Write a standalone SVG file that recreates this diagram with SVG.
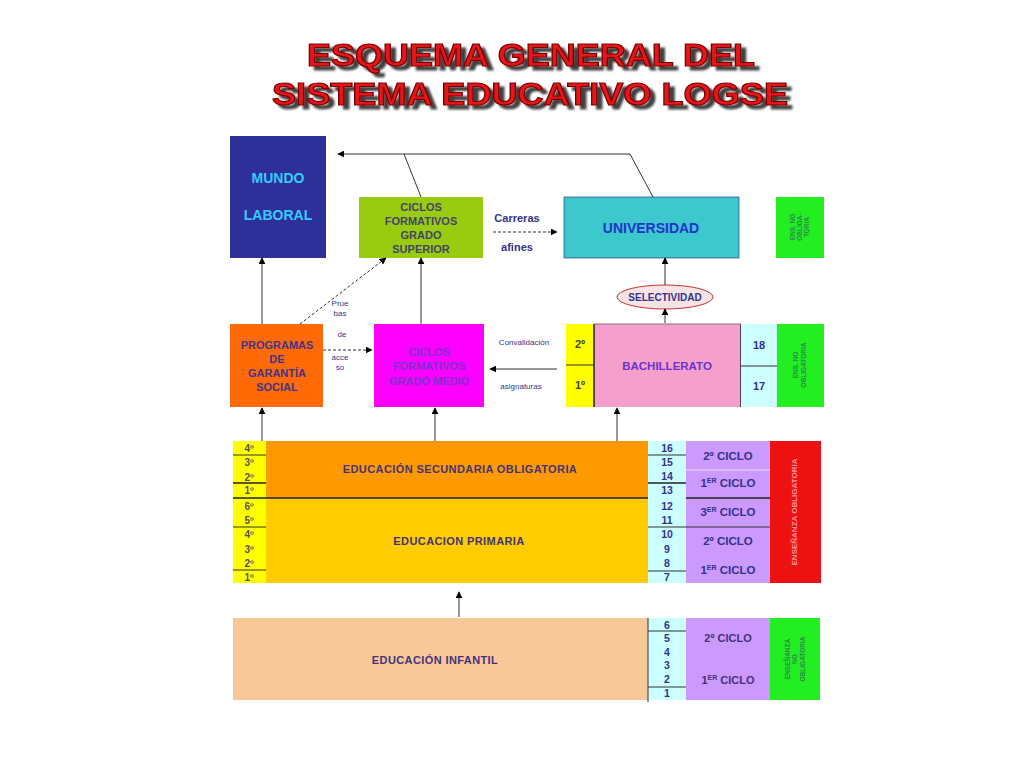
<svg xmlns="http://www.w3.org/2000/svg" width="1024" height="767" viewBox="0 0 1024 767">
<defs>
<marker id="ah" viewBox="0 0 10 10" refX="9" refY="5" markerWidth="7" markerHeight="7" orient="auto" markerUnits="userSpaceOnUse"><path d="M0,0 L10,5 L0,10 z" fill="#000"/></marker>
<filter id="sh" x="-5%" y="-30%" width="115%" height="170%">
<feGaussianBlur in="SourceAlpha" stdDeviation="1.3" result="b"/>
<feOffset in="b" dx="5" dy="4" result="o"/>
<feComponentTransfer in="o" result="o2"><feFuncA type="linear" slope="0.75"/></feComponentTransfer>
<feMerge><feMergeNode in="o2"/><feMergeNode in="SourceGraphic"/></feMerge>
</filter>
</defs>
<style>
.t{font-family:"Liberation Sans",Arial,sans-serif;font-weight:bold;text-anchor:middle}
.nv{fill:#33338a}
.sm{font-size:11px}
.xs{font-size:8px;font-weight:normal}
.ln{stroke:#333;stroke-width:1;fill:none}
.tk{stroke:#222;stroke-width:1.5}
.ttl{font-family:"Liberation Sans",Arial,sans-serif;font-weight:bold;font-size:32px;text-anchor:middle;fill:#e4141a;stroke:#7a0000;stroke-width:1.2}
</style>
<rect width="1024" height="767" fill="#fff"/>
<g id="title" filter="url(#sh)">
<text class="ttl" x="531" y="66" textLength="448" lengthAdjust="spacingAndGlyphs">ESQUEMA GENERAL DEL</text>
<text class="ttl" x="530" y="105" textLength="516" lengthAdjust="spacingAndGlyphs">SISTEMA EDUCATIVO LOGSE</text>
</g>

<g id="mundo-laboral">
<rect x="230" y="136" width="96" height="122" fill="#2f2f99"/>
<text class="t" x="278" y="183" font-size="14" fill="#33ccff">MUNDO</text>
<text class="t" x="278" y="220" font-size="14" fill="#33ccff">LABORAL</text>
</g>
<g id="cfgs">
<rect x="359" y="197" width="124" height="61" fill="#99cc11"/>
<text class="t" x="421" y="211" font-size="11" fill="#444466">CICLOS</text>
<text class="t" x="421" y="225" font-size="11" fill="#444466">FORMATIVOS</text>
<text class="t" x="421" y="239" font-size="11" fill="#444466">GRADO</text>
<text class="t" x="421" y="253" font-size="11" fill="#444466">SUPERIOR</text>
</g>
<g id="carreras">
<text class="t nv sm" x="517" y="222">Carreras</text>
<text class="t nv sm" x="517" y="251">afines</text>
</g>
<g id="universidad">
<rect x="564" y="197" width="175" height="61" fill="#3cc8cc" stroke="#226" stroke-width="0.6"/>
<text class="t" x="651" y="233" font-size="14" fill="#2233cc">UNIVERSIDAD</text>
</g>
<g id="ens-no-obl-1">
<rect x="776" y="197" width="48" height="61" fill="#22ee22"/>
<text class="t" font-size="6.5" fill="#2a8a4a" transform="translate(800,227) rotate(-90)"><tspan x="0" y="-5">ENS. NO</tspan><tspan x="0" y="2">OBLIGA-</tspan><tspan x="0" y="9">TORIA</tspan></text>
</g>

<g id="selectividad">
<ellipse cx="665" cy="297" rx="48" ry="12" fill="#f8e4e4" stroke="#cc3333" stroke-width="1"/>
<text class="t nv" x="665" y="301" font-size="10">SELECTIVIDAD</text>
</g>

<g id="pgs">
<rect x="230" y="324" width="93" height="83" fill="#ff6a06"/>
<text class="t sm" x="277" y="349" fill="#44338a">PROGRAMAS</text>
<text class="t sm" x="277" y="363" fill="#44338a">DE</text>
<text class="t sm" x="277" y="377" fill="#44338a">GARANTÍA</text>
<text class="t sm" x="277" y="391" fill="#44338a">SOCIAL</text>
</g>
<g id="pruebas">
<text class="t nv xs" x="340" y="306">Prue</text>
<text class="t nv xs" x="340" y="316">bas</text>
<text class="t nv xs" x="342" y="337">de</text>
<text class="t nv xs" x="340" y="360">acce</text>
<text class="t nv xs" x="340" y="370">so</text>
</g>
<g id="cfgm">
<rect x="374" y="324" width="110" height="83" fill="#ff00ff"/>
<text class="t sm" x="429" y="356" fill="#7a33cc">CICLOS</text>
<text class="t sm" x="429" y="370" fill="#7a33cc">FORMATIVOS</text>
<text class="t sm" x="429" y="385" fill="#7a33cc">GRADO  MEDIO</text>
</g>
<g id="convalidacion">
<text class="t nv xs" x="524" y="345">Convalidación</text>
<text class="t nv xs" x="521" y="389">asignaturas</text>
</g>
<g id="bach-cursos">
<rect x="566" y="324" width="28" height="83" fill="#ffff00"/>
<line x1="566" y1="365" x2="594" y2="365" class="ln"/>
<text class="t" x="580" y="348" font-size="11" fill="#444">2º</text>
<text class="t" x="580" y="389" font-size="11" fill="#444">1º</text>
</g>
<g id="bachillerato">
<rect x="594" y="324" width="147" height="83" fill="#f5a0cc"/>
<line x1="594" y1="324" x2="594" y2="407" class="tk"/>
<line x1="741" y1="324" x2="741" y2="407" class="tk"/>
<line x1="594" y1="324" x2="741" y2="324" stroke="#8a6a8a" stroke-width="1"/>
<text class="t" x="667" y="370" font-size="11.5" fill="#6a33cc">BACHILLERATO</text>
</g>
<g id="bach-edades">
<rect x="741" y="324" width="36" height="83" fill="#ccffff"/>
<line x1="741" y1="366" x2="777" y2="366" class="ln"/>
<text class="t nv sm" x="759" y="349">18</text>
<text class="t nv sm" x="759" y="390">17</text>
</g>
<g id="ens-no-obl-2">
<rect x="777" y="324" width="47" height="83" fill="#22ee22"/>
<text class="t" font-size="6.5" fill="#2a8a4a" transform="translate(800,365) rotate(-90)"><tspan x="0" y="-2">ENS. NO</tspan><tspan x="0" y="6">OBLIGATORIA</tspan></text>
</g>

<g id="eso-primaria-cursos">
<rect x="233" y="441" width="33" height="142" fill="#ffff00"/>
<line x1="233" y1="455" x2="266" y2="455" class="ln"/>
<line x1="233" y1="483" x2="266" y2="483" class="tk"/>
<line x1="233" y1="527" x2="266" y2="527" class="ln"/>
<line x1="233" y1="570" x2="266" y2="570" class="ln"/>
<g class="t" font-size="10" fill="#555" font-weight="normal">
<text x="249" y="452">4º</text><text x="249" y="466">3º</text><text x="249" y="481">2º</text><text x="249" y="494">1º</text>
<text x="249" y="510">6º</text><text x="249" y="524">5º</text><text x="249" y="538">4º</text><text x="249" y="553">3º</text><text x="249" y="567">2º</text><text x="249" y="581">1º</text>
</g>
</g>
<g id="eso">
<rect x="266" y="441" width="382" height="57" fill="#ff9900"/>
<text class="t" x="460" y="473" font-size="11" fill="#44337a" letter-spacing="0.4">EDUCACIÓN SECUNDARIA OBLIGATORIA</text>
</g>
<g id="primaria">
<rect x="266" y="498" width="382" height="85" fill="#ffcc00"/>
<text class="t" x="459" y="545" font-size="11" fill="#44337a" letter-spacing="0.4">EDUCACION PRIMARIA</text>
</g>
<line x1="233" y1="498" x2="686" y2="498" class="tk"/>
<g id="edades-obl">
<rect x="648" y="441" width="38" height="142" fill="#ccffff"/>
<line x1="648" y1="455" x2="686" y2="455" class="ln"/>
<line x1="648" y1="483" x2="686" y2="483" class="tk"/>
<line x1="648" y1="527" x2="686" y2="527" class="ln"/>
<line x1="648" y1="571" x2="686" y2="571" class="ln"/>
<g class="t nv" font-size="10.5">
<text x="667" y="452">16</text><text x="667" y="466">15</text><text x="667" y="480">14</text><text x="667" y="494">13</text>
<text x="667" y="510">12</text><text x="667" y="524">11</text><text x="667" y="538">10</text><text x="667" y="553">9</text><text x="667" y="567">8</text><text x="667" y="581">7</text>
</g>
</g>
<g id="ciclos-obl">
<rect x="686" y="441" width="84" height="142" fill="#cc99ff"/>
<line x1="686" y1="470" x2="770" y2="470" stroke="#e8d8ff" stroke-width="1"/>
<line x1="686" y1="498" x2="770" y2="498" class="tk"/>
<line x1="686" y1="527" x2="770" y2="527" class="ln"/>
<g class="t nv" font-size="11.5">
<text x="728" y="460">2º CICLO</text>
<text x="728" y="487">1<tspan font-size="7" dy="-4">ER</tspan><tspan dy="4"> CICLO</tspan></text>
<text x="728" y="516">3<tspan font-size="7" dy="-4">ER</tspan><tspan dy="4"> CICLO</tspan></text>
<text x="728" y="545">2º CICLO</text>
<text x="728" y="574">1<tspan font-size="7" dy="-4">ER</tspan><tspan dy="4"> CICLO</tspan></text>
</g>
</g>
<g id="ens-obl">
<rect x="770" y="441" width="51" height="142" fill="#ee1111"/>
<text class="t" font-size="8" fill="#ff9999" transform="translate(797,512) rotate(-90)">ENSEÑANZA OBLIGATORIA</text>
</g>

<g id="infantil">
<rect x="233" y="618" width="415" height="82" fill="#f8c898"/>
<text class="t" x="435" y="664" font-size="11" fill="#44337a" letter-spacing="0.4">EDUCACIÓN INFANTIL</text>
</g>
<g id="edades-inf">
<rect x="648" y="618" width="38" height="82" fill="#ccffff"/>
<line x1="648" y1="618" x2="648" y2="702" class="ln"/>
<line x1="648" y1="631" x2="686" y2="631" class="ln"/>
<line x1="648" y1="687" x2="686" y2="687" class="ln"/>
<g class="t nv" font-size="10.5">
<text x="667" y="629">6</text><text x="667" y="642">5</text><text x="667" y="656">4</text><text x="667" y="669">3</text><text x="667" y="683">2</text><text x="667" y="697">1</text>
</g>
</g>
<g id="ciclos-inf">
<rect x="686" y="618" width="84" height="82" fill="#cc99ff"/>
<text class="t" x="728" y="642" font-size="11" fill="#44337a" font-weight="normal">2º CICLO</text>
<text class="t" x="728" y="684" font-size="11" fill="#44337a" font-weight="normal">1<tspan font-size="7" dy="-4">ER</tspan><tspan dy="4"> CICLO</tspan></text>
</g>
<g id="ens-no-obl-3">
<rect x="770" y="618" width="50" height="82" fill="#22ee22"/>
<text class="t" font-size="6.5" fill="#2a8a4a" transform="translate(795,659) rotate(-90)"><tspan x="0" y="-5">ENSEÑANZA</tspan><tspan x="0" y="2">NO</tspan><tspan x="0" y="10">OBLIGATORIA</tspan></text>
</g>

<g id="connectors">
<polyline points="653,197 630,154 338,154" class="ln" stroke="#222" marker-end="url(#ah)"/>
<line x1="421" y1="197" x2="404" y2="154" class="ln"/>
<line x1="262" y1="324" x2="262" y2="258" class="ln" stroke="#888" marker-end="url(#ah)"/>
<line x1="421" y1="324" x2="421" y2="258" class="ln" stroke="#888" marker-end="url(#ah)"/>
<line x1="300" y1="324" x2="386" y2="258" class="ln" stroke="#000" stroke-dasharray="3,2" marker-end="url(#ah)"/>
<line x1="493" y1="232" x2="557" y2="232" class="ln" stroke="#000" stroke-dasharray="3,2" marker-end="url(#ah)"/>
<line x1="665" y1="285" x2="665" y2="258" class="ln" marker-end="url(#ah)"/>
<line x1="665" y1="323" x2="665" y2="309" class="ln" marker-end="url(#ah)"/>
<line x1="323" y1="350" x2="372" y2="350" class="ln" stroke="#000" stroke-dasharray="3,2" marker-end="url(#ah)"/>
<line x1="557" y1="369" x2="490" y2="369" class="ln" marker-end="url(#ah)"/>
<line x1="262" y1="441" x2="262" y2="408" class="ln" marker-end="url(#ah)"/>
<line x1="435" y1="441" x2="435" y2="408" class="ln" marker-end="url(#ah)"/>
<line x1="617" y1="441" x2="617" y2="408" class="ln" marker-end="url(#ah)"/>
<line x1="459" y1="617" x2="459" y2="592" class="ln" marker-end="url(#ah)"/>
</g>
</svg>
